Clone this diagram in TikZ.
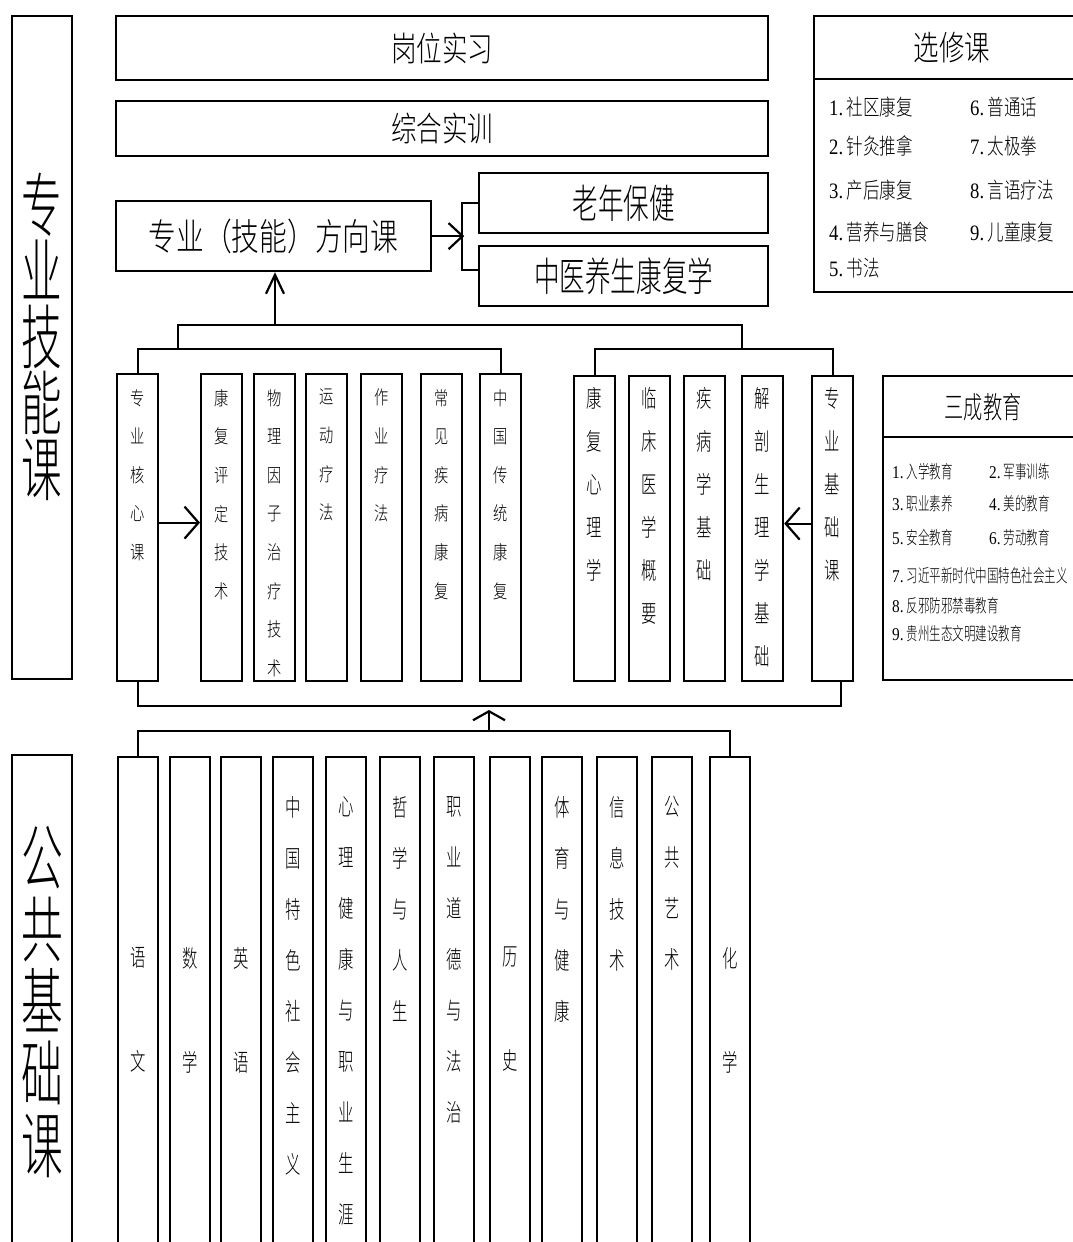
\documentclass[tikz,border=0pt]{standalone}
\usepackage{fontspec}
\newfontfamily\cjk[FakeStretch=0.75]{Noto Sans CJK SC Light}
\newfontfamily\cjkn[FakeStretch=0.64]{Noto Sans CJK SC Light}
\newfontfamily\cjkbig[FakeStretch=0.58]{Noto Sans CJK SC Light}
\newfontfamily\numfont[FakeStretch=0.85]{Liberation Serif}
\newcommand{\itemno}[1]{{\numfont #1.}\,}
\usetikzlibrary{positioning, arrows.meta}

\begin{document}
\begin{tikzpicture}[x=1pt, y=-1pt]

      \tikzset{box/.style={draw, line width=2.2pt, inner sep=0pt, anchor=north west},
               col/.style={box, minimum width=41pt, minimum height=307pt},
               pubcol/.style={box, minimum width=40pt, minimum height=520pt},
               vlab/.style={inner sep=0pt, anchor=north, align=center, execute at begin node={\lineskiplimit=-50pt}},
               item/.style={inner sep=0pt, anchor=west, font={\cjk\fontsize{22}{22}\selectfont}},
               sitem/.style={inner sep=0pt, anchor=west, font={\cjkn\fontsize{18}{18}\selectfont}},
               link/.style={line width=2.2pt},
               arrow/.style={line width=2.2pt, -{Straight Barb[length=14pt, width=32pt]}}}

      \useasboundingbox (0,0) rectangle (1073,1242);
      \clip (0,0) rectangle (1073,1242);

%% Side labels
      	\node[box, minimum width=60pt, minimum height=663pt] (zyjn) at (11,15) {};
      	\node[vlab, font={\cjkbig\fontsize{70}{66}\selectfont}, below=158pt of zyjn.north] (zyjnt) {专\\业\\技\\能\\课};
      	\node[box, minimum width=60pt, minimum height=520pt] (ggjc) at (11,754) {};
      	\node[vlab, font={\cjkbig\fontsize{72}{72}\selectfont}, below=72pt of ggjc.north] (ggjct) {公\\共\\基\\础\\课};

%% Upper boxes
      	\node[box, minimum width=652pt, minimum height=64pt, font={\cjk\fontsize{34}{34}\selectfont}] (gwsx) at (115,15) {岗位实习};
      	\node[box, minimum width=652pt, minimum height=55pt, font={\cjk\fontsize{34}{34}\selectfont}] (zhsx) at (115,100) {综合实训};
      	\node[box, minimum width=315pt, minimum height=70pt, font={\cjk\fontsize{37}{37}\selectfont}] (zyfx) at (115,200) {专业（技能）方向课};
      	\node[box, minimum width=289pt, minimum height=60pt, font={\cjkn\fontsize{40}{40}\selectfont}] (lnbj) at (478,172) {老年保健};
      	\node[box, minimum width=289pt, minimum height=60pt, font={\cjkn\fontsize{40}{40}\selectfont}] (zyys) at (478,245) {中医养生康复学};

%% Electives
      	\node[box, minimum width=276pt, minimum height=63pt, font={\cjk\fontsize{34}{34}\selectfont}] (xxk) at (813,15) {选修课};
      	\node[box, minimum width=276pt, minimum height=213pt] (xxkb) at (813,78) {};
      	\node[item] (x1) at (829,107) {\itemno{1}社区康复};
      	\node[item] (x2) at (829,146) {\itemno{2}针灸推拿};
      	\node[item] (x3) at (829,190) {\itemno{3}产后康复};
      	\node[item] (x4) at (829,232) {\itemno{4}营养与膳食};
      	\node[item] (x5) at (829,268) {\itemno{5}书法};
      	\node[item] (x6) at (970,107) {\itemno{6}普通话};
      	\node[item] (x7) at (970,146) {\itemno{7}太极拳};
      	\node[item] (x8) at (970,190) {\itemno{8}言语疗法};
      	\node[item] (x9) at (970,232) {\itemno{9}儿童康复};

%% Sancheng
      	\node[box, minimum width=200pt, minimum height=61pt, font={\cjkn\fontsize{30}{30}\selectfont}] (scjy) at (882,375) {三成教育};
      	\node[box, minimum width=200pt, minimum height=243pt] (scjyb) at (882,436) {};
      	\node[sitem] (s1) at (892,472) {\itemno{1}入学教育};
      	\node[sitem] (s2) at (989,472) {\itemno{2}军事训练};
      	\node[sitem] (s3) at (892,504) {\itemno{3}职业素养};
      	\node[sitem] (s4) at (989,504) {\itemno{4}美的教育};
      	\node[sitem] (s5) at (892,538) {\itemno{5}安全教育};
      	\node[sitem] (s6) at (989,538) {\itemno{6}劳动教育};
      	\node[sitem] (s7) at (892,576) {\itemno{7}习近平新时代中国特色社会主义};
      	\node[sitem] (s8) at (892,606) {\itemno{8}反邪防邪禁毒教育};
      	\node[sitem] (s9) at (892,634) {\itemno{9}贵州生态文明建设教育};

%% Core courses
      \tikzset{corelab/.style={vlab, font={\cjk\fontsize{19}{38.6}\selectfont}, below=16pt of #1.north}}
      	\node[col] (zyhx) at (116,373) {};
      	\node[col] (kfpd) at (200,373) {};
      	\node[col] (wlyz) at (253,373) {};
      	\node[col] (ydlf) at (305,373) {};
      	\node[col] (zylf) at (360,373) {};
      	\node[col] (cjjb) at (420,373) {};
      	\node[col] (zgct) at (479,373) {};
      	\node[corelab=zyhx] {专\\业\\核\\心\\课};
      	\node[corelab=kfpd] {康\\复\\评\\定\\技\\术};
      	\node[corelab=wlyz] {物\\理\\因\\子\\治\\疗\\技\\术};
      	\node[corelab=ydlf] {运\\动\\疗\\法};
      	\node[corelab=zylf] {作\\业\\疗\\法};
      	\node[corelab=cjjb] {常\\见\\疾\\病\\康\\复};
      	\node[corelab=zgct] {中\\国\\传\\统\\康\\复};

%% Basic courses
      \tikzset{baselab/.style={vlab, font={\cjkn\fontsize{24}{43}\selectfont}, below=12pt of #1.north}}
      	\node[col, minimum height=305pt] (kfxl) at (573,375) {};
      	\node[col, minimum height=305pt] (lcyx) at (628,375) {};
      	\node[col, minimum height=305pt] (jbx) at (683,375) {};
      	\node[col, minimum height=305pt] (jpsl) at (741,375) {};
      	\node[col, minimum height=305pt] (zyjc) at (811,375) {};
      	\node[baselab=kfxl] {康\\复\\心\\理\\学};
      	\node[baselab=lcyx] {临\\床\\医\\学\\概\\要};
      	\node[baselab=jbx] {疾\\病\\学\\基\\础};
      	\node[baselab=jpsl] {解\\剖\\生\\理\\学\\基\\础};
      	\node[baselab=zyjc] {专\\业\\基\\础\\课};

%% Public courses
      \tikzset{publab/.style={vlab, font={\cjkn\fontsize{24}{51}\selectfont}, below=40pt of #1.north},
               publab2/.style={vlab, font={\cjkn\fontsize{24}{104}\selectfont}, below=191pt of #1.north}}
      	\node[pubcol] (yw) at (117,756) {};
      	\node[pubcol] (sx) at (169,756) {};
      	\node[pubcol] (yy) at (220,756) {};
      	\node[pubcol] (zgts) at (272,756) {};
      	\node[pubcol] (xljk) at (325,756) {};
      	\node[pubcol] (zxrs) at (379,756) {};
      	\node[pubcol] (zydd) at (433,756) {};
      	\node[pubcol] (ls) at (489,756) {};
      	\node[pubcol] (tyjk) at (541,756) {};
      	\node[pubcol] (xxjs) at (596,756) {};
      	\node[pubcol] (ggys) at (651,756) {};
      	\node[pubcol] (hx) at (709,756) {};
      	\node[publab2=yw] {语\\文};
      	\node[publab2=sx] {数\\学};
      	\node[publab2=yy] {英\\语};
      	\node[publab=zgts] {中\\国\\特\\色\\社\\会\\主\\义};
      	\node[publab=xljk] {心\\理\\健\\康\\与\\职\\业\\生\\涯};
      	\node[publab=zxrs] {哲\\学\\与\\人\\生};
      	\node[publab=zydd] {职\\业\\道\\德\\与\\法\\治};
      	\node[publab2=ls] {历\\史};
      	\node[publab=tyjk] {体\\育\\与\\健\\康};
      	\node[publab=xxjs] {信\\息\\技\\术};
      	\node[publab=ggys] {公\\共\\艺\\术};
      	\node[publab2=hx] {化\\学};

%Connectors
      	\coordinate (lj) at (178,349);
      	\coordinate (rj) at (742,349);
      	\coordinate (up) at (275,325);
      	\coordinate (pj) at (489,731);
      	\coordinate (cj) at (489,710);
		\draw [link] (zyhx.north) -- ++(0,-24) -| (zgct.north);
		\draw [link] (kfxl.north) -- ++(0,-26) -| (zyjc.north);
		\draw [link] (lj) -- ++(0,-24) -| (rj);
		\draw [line width=2.2pt, -{Straight Barb[length=19pt, width=18pt]}] (up) -- (up |- zyfx.south);
		\draw [line width=2.2pt, -{Straight Barb[length=14pt, width=26pt]}] (zyfx.east) -- ++(32,0);
		\draw [link] (lnbj.west) -- ++(-16,0) |- ([yshift=6pt]zyys.west);
		\draw [arrow] ([yshift=5pt]zyhx.east) -- ([yshift=5pt]kfpd.west);
		\draw [arrow] ([yshift=5pt]zyjc.west) -- ([yshift=5pt]jpsl.east);
		\draw [link] (zyhx.south) -- ++(0,24) -| ([xshift=8pt]zyjc.south);
		\draw [link] (yw.north) -- ++(0,-25) -| (hx.north);
		\draw [line width=2.2pt, -{Straight Barb[length=9pt, width=32pt]}] (pj) -- (cj);

	\end{tikzpicture}
\end{document}
